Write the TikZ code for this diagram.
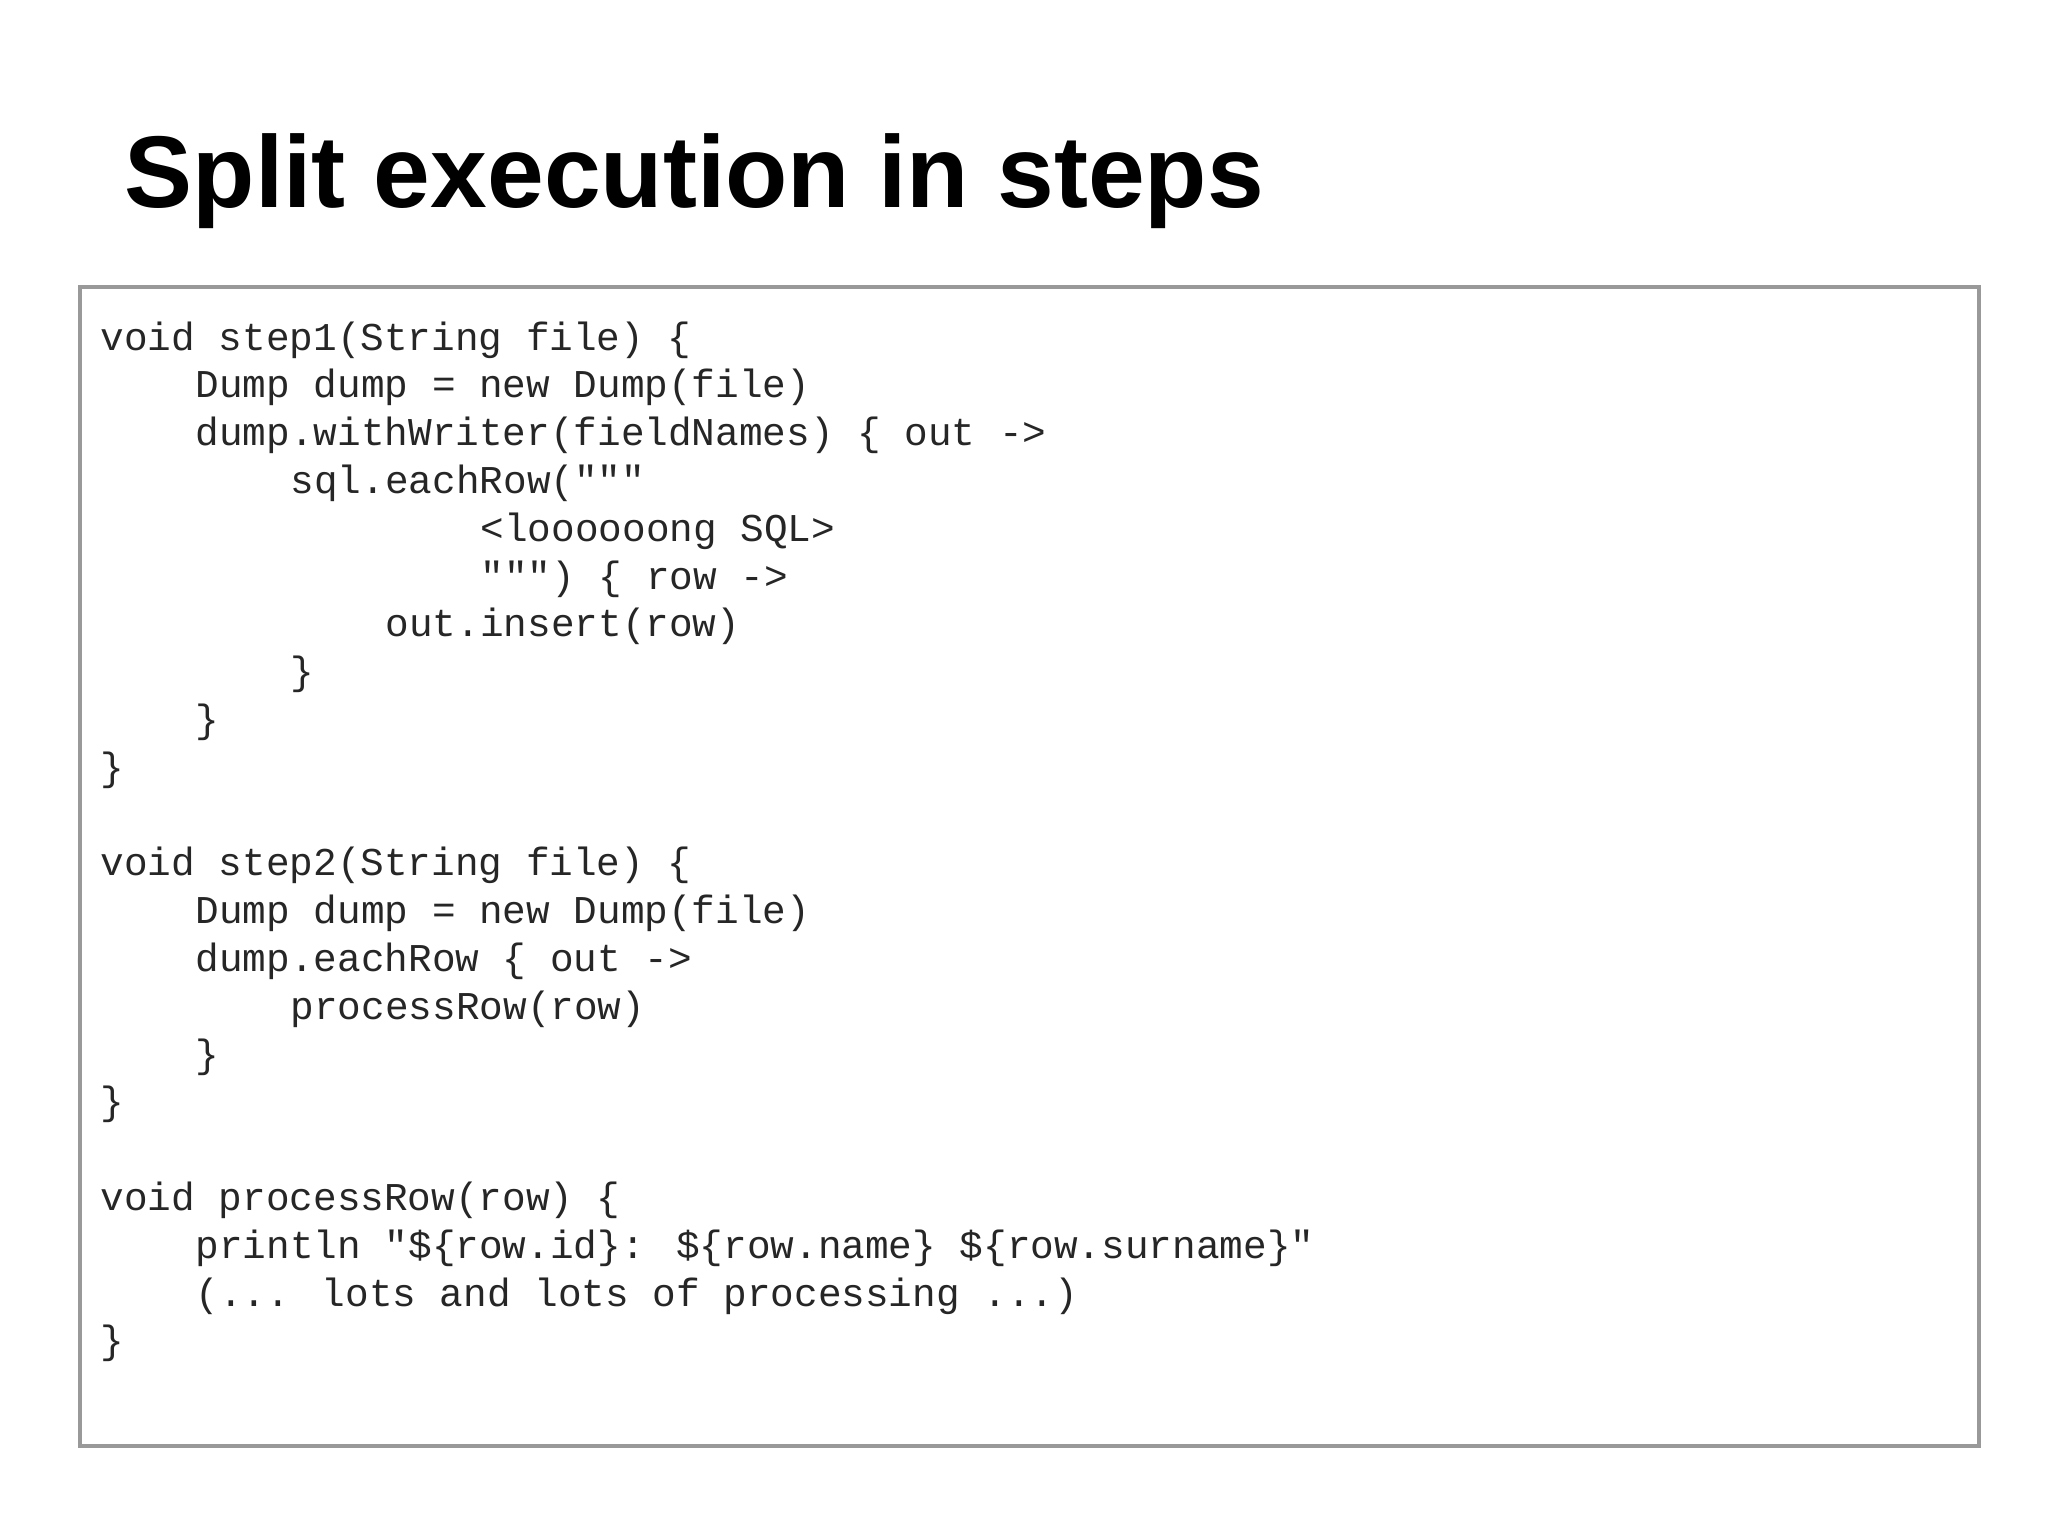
\documentclass[tikz,border=0pt]{standalone}
\usepackage{fontspec}
\setmainfont{Liberation Sans}
\newfontfamily\codefont{Liberation Mono}
\begin{document}
\begin{tikzpicture}[x=0.01cm,y=-0.01cm,
  codeline/.style={anchor=base west,inner sep=0,font=\codefont\fontsize{11.2}{13}\selectfont,text=black!85}]
\useasboundingbox (0,0) rectangle (2048,1536);
\node[anchor=base west,inner sep=0,font=\bfseries\fontsize{29}{34}\selectfont] (title) at (124,207) {Split execution in steps};
\draw[black!40,line width=1pt] (80,287) rectangle (1979,1446);
\def\cw{23.75}
\def\lh{47.8}
\foreach \i/\ind/\t [count=\n] in {
 0/0/{void step1(String file) \{},
 1/4/{Dump dump = new Dump(file)},
 2/4/{dump.withWriter(fieldNames) \{ out ->},
 3/8/{sql.eachRow("""},
 4/16/{<loooooong SQL>},
 5/16/{""") \{ row ->},
 6/12/{out.insert(row)},
 7/8/{\}},
 8/4/{\}},
 9/0/{\}},
 11/0/{void step2(String file) \{},
 12/4/{Dump dump = new Dump(file)},
 13/4/{dump.eachRow \{ out ->},
 14/8/{processRow(row)},
 15/4/{\}},
 16/0/{\}},
 18/0/{void processRow(row) \{},
 19/4/{println "\$\{row.id\}: \$\{row.name\} \$\{row.surname\}"},
 20/4/{(... lots and lots of processing ...)},
 21/0/{\}}}
 \node[codeline] (l\n) at ({100+\ind*\cw},{350+\i*\lh}) {\t};
\end{tikzpicture}
\end{document}
